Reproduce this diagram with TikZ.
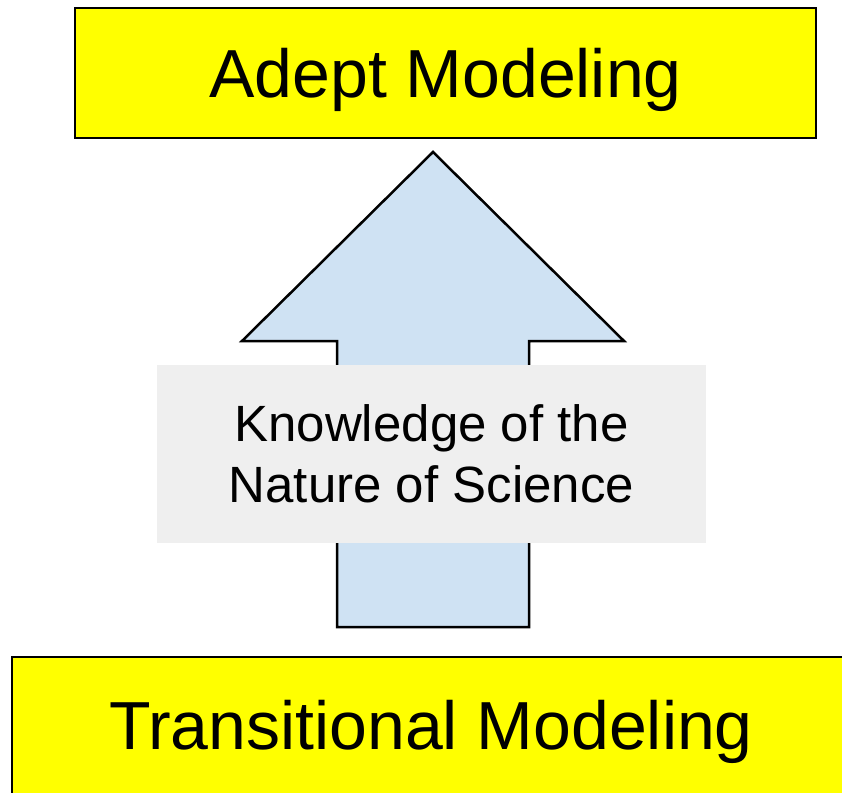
\documentclass[tikz,border=0pt]{standalone}
\usepackage{fontspec}
\setmainfont{Liberation Sans}
\usepackage{tikz}
\usetikzlibrary{positioning}

\definecolor{boxyellow}{HTML}{FFFF00}
\definecolor{arrowblue}{HTML}{CFE2F3}
\definecolor{notegray}{HTML}{EFEFEF}

\tikzset{
  levelbox/.style={draw=black, line width=2.5pt, fill=boxyellow, inner sep=0pt,
    text depth=0pt, font=\fontsize{68}{80}\selectfont},
  notebox/.style={fill=notegray, inner sep=0pt, align=center,
    minimum width=549pt, minimum height=178pt, font=\fontsize{51}{61}\selectfont}
}

\begin{document}
\begin{tikzpicture}[x=1pt,y=-1pt]
        \useasboundingbox (0,0) rectangle (842,792);
        % levels
        \node[levelbox, minimum width=741pt, minimum height=130pt] (adept) at (445.5,73) {Adept Modeling};
        \node[levelbox, minimum width=838pt, minimum height=155pt, text depth=20pt] (trans) at (431,734.5) {Transitional Modeling};
        % big arrow
        \draw[line width=2.5pt, fill=arrowblue, line join=miter]
            (433,152) -- (624,341) -- (529,341) -- (529,627) -- (337,627)
            -- (337,341) -- (242,341) -- cycle;
        \node[notebox] (nos) at (431.5,454) {Knowledge of the\\Nature of Science};
\end{tikzpicture}
\end{document}
